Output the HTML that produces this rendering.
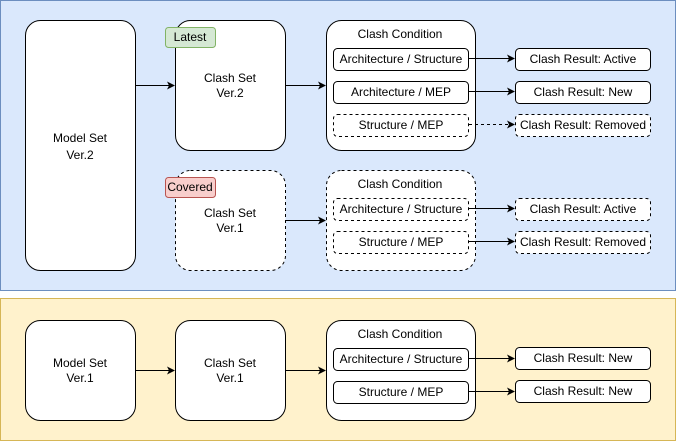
<!DOCTYPE html>
<html><head><meta charset="utf-8"><style>html,body{margin:0;padding:0;background:#fff}svg{display:block}text{font-family:"Liberation Sans",Arial,sans-serif;font-size:12px;fill:#000;text-anchor:middle;dominant-baseline:central}</style></head><body>
<svg width="676" height="441" viewBox="0 0 676 441" xmlns="http://www.w3.org/2000/svg">
<defs><marker id="a" markerWidth="8" markerHeight="8" refX="7" refY="4" orient="auto" markerUnits="userSpaceOnUse"><path d="M0,0 L8,4 L0,8 L2,4 Z" fill="#000"/></marker></defs>
<rect x="0.5" y="0.5" width="675" height="290" fill="#dae8fc" stroke="#6c8ebf"/>
<rect x="0.5" y="298.5" width="675" height="142" fill="#fff2cc" stroke="#d6b656"/>
<g stroke="#000" fill="#fff">
<rect x="25.5" y="20.5" width="110" height="250" rx="15"/>
<rect x="175.5" y="20.5" width="110" height="130" rx="15"/>
<rect x="326.5" y="20.5" width="149" height="130" rx="15"/>
<rect x="333.5" y="48.5" width="135" height="22" rx="4"/>
<rect x="333.5" y="81.5" width="135" height="22" rx="4"/>
<rect x="333.5" y="114.5" width="135" height="22" rx="4" stroke-dasharray="3,3"/>
<rect x="515.5" y="48.5" width="135" height="22" rx="4"/>
<rect x="515.5" y="81.5" width="135" height="22" rx="4"/>
<rect x="515.5" y="114.5" width="135" height="22" rx="4" stroke-dasharray="3,3"/>
<rect x="175.5" y="170.5" width="110" height="100" rx="15" stroke-dasharray="3,3"/>
<rect x="326.5" y="170.5" width="149" height="100" rx="15" stroke-dasharray="3,3"/>
<rect x="333.5" y="198.5" width="135" height="22" rx="4" stroke-dasharray="3,3"/>
<rect x="333.5" y="231.5" width="135" height="22" rx="4" stroke-dasharray="3,3"/>
<rect x="515.5" y="198.5" width="135" height="22" rx="4" stroke-dasharray="3,3"/>
<rect x="515.5" y="231.5" width="135" height="22" rx="4" stroke-dasharray="3,3"/>
<rect x="25.5" y="320.5" width="110" height="100" rx="15"/>
<rect x="175.5" y="320.5" width="110" height="100" rx="15"/>
<rect x="326.5" y="320.5" width="149" height="100" rx="15"/>
<rect x="333.5" y="348.5" width="135" height="22" rx="4"/>
<rect x="333.5" y="381.5" width="135" height="22" rx="4"/>
<rect x="515.5" y="347.5" width="135" height="22" rx="4"/>
<rect x="515.5" y="380.5" width="135" height="22" rx="4"/>
</g>
<rect x="165.5" y="27.5" width="50" height="20" rx="3" fill="#d5e8d4" stroke="#82b366"/>
<rect x="165.5" y="177.5" width="50" height="20" rx="3" fill="#f8cecc" stroke="#b85450"/>
<g stroke="#000" fill="none" marker-end="url(#a)">
<line x1="136" y1="85.5" x2="174" y2="85.5"/>
<line x1="286" y1="85.5" x2="325" y2="85.5"/>
<line x1="286" y1="220.5" x2="325" y2="220.5"/>
<line x1="136" y1="370.5" x2="174" y2="370.5"/>
<line x1="286" y1="370.5" x2="325" y2="370.5"/>
<line x1="469" y1="58.5" x2="514" y2="58.5"/>
<line x1="469" y1="91.5" x2="514" y2="91.5"/>
<line x1="469" y1="124.5" x2="514" y2="124.5" stroke-dasharray="3,3"/>
<line x1="469" y1="208.5" x2="514" y2="208.5"/>
<line x1="469" y1="241.5" x2="514" y2="241.5"/>
<line x1="469" y1="358.5" x2="514" y2="358.5"/>
<line x1="469" y1="391.5" x2="514" y2="391.5"/>
</g>
<text x="80" y="138">Model Set</text><text x="80" y="155">Ver.2</text>
<text x="230" y="78">Clash Set</text><text x="230" y="93">Ver.2</text>
<text x="190" y="37">Latest</text>
<text x="400" y="34">Clash Condition</text>
<text x="401" y="59">Architecture / Structure</text>
<text x="401" y="92">Architecture / MEP</text>
<text x="401" y="125">Structure / MEP</text>
<text x="583" y="59">Clash Result: Active</text>
<text x="583" y="92">Clash Result: New</text>
<text x="583" y="125">Clash Result: Removed</text>
<text x="190" y="187">Covered</text>
<text x="230" y="213">Clash Set</text><text x="230" y="228">Ver.1</text>
<text x="400" y="184">Clash Condition</text>
<text x="401" y="209">Architecture / Structure</text>
<text x="401" y="242">Structure / MEP</text>
<text x="583" y="209">Clash Result: Active</text>
<text x="583" y="242">Clash Result: Removed</text>
<text x="80" y="363">Model Set</text><text x="80" y="378">Ver.1</text>
<text x="230" y="363">Clash Set</text><text x="230" y="378">Ver.1</text>
<text x="400" y="334">Clash Condition</text>
<text x="401" y="359">Architecture / Structure</text>
<text x="401" y="392">Structure / MEP</text>
<text x="583" y="358">Clash Result: New</text>
<text x="583" y="391">Clash Result: New</text>
</svg>
</body></html>
